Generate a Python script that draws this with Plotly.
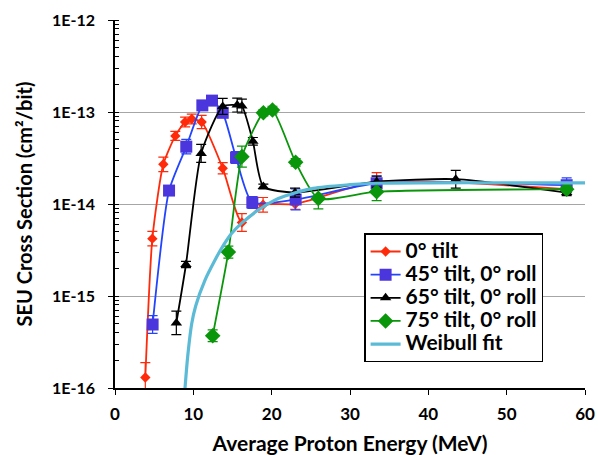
import plotly.graph_objects as go

# ---- data ----
red_x = [3.87, 4.77, 6.17, 7.7, 8.95, 9.8, 11.06, 13.75, 16.2, 18.9, 23.0, 33.4, 57.66]
red_y = [1.3e-16, 4.2e-15, 2.7e-14, 5.5e-14, 7.8e-14, 8.4e-14, 7.8e-14, 2.45e-14, 6.3e-15, 9.8e-15, 1.0e-14, 1.75e-14, 1.45e-14]
red_err = [0.45, 0.2, 0.2, 0.12, 0.13, 0.13, 0.18, 0.15, 0.25, 0.2, 0.14, 0.25, 0.08]

blue_x = [4.8, 6.9, 9.1, 11.15, 12.38, 13.75, 15.45, 17.53, 23.06, 33.4, 57.66]
blue_y = [4.9e-16, 1.4e-14, 4.2e-14, 1.18e-13, 1.33e-13, 9.8e-14, 3.2e-14, 1.04e-14, 1.12e-14, 1.68e-14, 1.6e-14]
blue_err = [0.25, 0.1, 0.2, 0.06, 0.06, 0.06, 0.16, 0.16, 0.3, 0.2, 0.2]

black_x = [7.83, 9.06, 11.0, 13.75, 15.6, 16.2, 17.6, 18.94, 22.98, 33.4, 43.5, 57.66]
black_y = [5.1e-16, 2.2e-15, 3.55e-14, 1.15e-13, 1.19e-13, 1.16e-13, 4.8e-14, 1.55e-14, 1.33e-14, 1.75e-14, 1.86e-14, 1.33e-14]
black_err = [0.34, 0.08, 0.25, 0.22, 0.19, 0.19, 0.1, 0.06, 0.12, 0.15, 0.25, 0.08]

green_x = [12.47, 14.47, 16.2, 18.94, 20.1, 23.06, 25.96, 33.4, 57.66]
green_y = [3.7e-16, 3.0e-15, 3.27e-14, 9.8e-14, 1.05e-13, 2.84e-14, 1.15e-14, 1.36e-14, 1.45e-14]
green_err = [0.16, 0.16, 0.3, 0.08, 0.1, 0.1, 0.3, 0.25, 0.08]

weib_x = [8.94, 9.28, 9.79, 10.3, 11.49, 12.77, 13.6, 14.9, 16.17, 18.3, 20.4, 21.7, 25.3, 30.0, 33.4, 40.0, 50.0, 60.0]
weib_y = [1.0e-16, 2.2e-16, 5.0e-16, 7.8e-16, 1.49e-15, 2.46e-15, 3.3e-15, 4.8e-15, 6.2e-15, 8.6e-15, 1.1e-14, 1.22e-14, 1.48e-14, 1.62e-14, 1.68e-14, 1.7e-14, 1.7e-14, 1.7e-14]

series_names = ["0° tilt", "45° tilt, 0° roll", "65° tilt, 0° roll", "75° tilt, 0° roll", "Weibull fit"]

x_ticks = [0, 10, 20, 30, 40, 50, 60]
y_tickvals = [1e-16, 1e-15, 1e-14, 1e-13, 1e-12]
y_ticktext = ["1E-16", "1E-15", "1E-14", "1E-13", "1E-12"]

FONT = "Lato"


def errs(y, f):
    up = [v * e for v, e in zip(y, f)]
    dn = [v * (1 - 1 / (1 + e)) for v, e in zip(y, f)]
    return up, dn


def legend_label(s):
    return '<span style="font-size:21px">' + s + '</span>'


fig = go.Figure()

series = [
    (series_names[0], red_x, red_y, red_err, "#FF2A0A", "#FF2A0A", "diamond", 8),
    (series_names[1], blue_x, blue_y, blue_err, "#2244FF", "#4B36DD", "square", 12),
    (series_names[2], black_x, black_y, black_err, "#000000", "#000000", "triangle-up", 10),
    (series_names[3], green_x, green_y, green_err, "#0A960A", "#0A960A", "diamond", 12),
]
for name, x, y, e, lc, mc, sym, ms in series:
    up, dn = errs(y, e)
    fig.add_trace(go.Scatter(
        x=x, y=y, name=legend_label(name), mode="lines+markers",
        line=dict(color=lc, width=1.8, shape="spline", smoothing=0.6),
        marker=dict(color=mc, symbol=sym, size=ms),
        error_y=dict(type="data", array=up, arrayminus=dn, color=lc, thickness=1.2, width=5),
    ))

fig.add_trace(go.Scatter(
    x=weib_x, y=weib_y, name=legend_label(series_names[4]), mode="lines",
    line=dict(color="#5BBBD6", width=3.2, shape="spline", smoothing=0.8),
))

fig.update_layout(
    width=599, height=455,
    margin=dict(l=115, r=14, t=20, b=67),
    paper_bgcolor="white", plot_bgcolor="white",
    font=dict(family=FONT, color="black", size=16),
    legend=dict(
        x=0.53, y=0.42, xanchor="left", yanchor="top",
        bgcolor="white", bordercolor="black", borderwidth=1.5,
        font=dict(family=FONT, size=15.5, weight="bold"),
        tracegroupgap=0, itemwidth=30,
    ),
)

fig.update_xaxes(
    range=[0, 60], tickvals=x_ticks, ticks="outside", ticklen=5, tickcolor="black",
    showline=True, linecolor="black", linewidth=1.5, showgrid=False, zeroline=False,
    automargin=False, ticklabelstandoff=5,
    tickfont=dict(family=FONT, size=17, weight="bold"),
    title=dict(text="Average Proton Energy (MeV)", font=dict(family=FONT, size=21, weight="bold"), standoff=14),
)
fig.update_yaxes(
    type="log", range=[-16, -12], tickvals=y_tickvals, ticktext=y_ticktext,
    ticks="outside", ticklen=5, tickcolor="black",
    showline=True, linecolor="black", linewidth=1.5,
    showgrid=True, gridcolor="#A6A6A6", gridwidth=1.2, zeroline=False,
    automargin=False, ticklabelstandoff=10,
    minor=dict(ticks="inside", ticklen=4, tickcolor="black", dtick="D1", showgrid=False),
    tickfont=dict(family=FONT, size=16, weight="bold"),
    title=dict(text="SEU Cross Section (cm²/bit)", font=dict(family=FONT, size=20, weight="bold"), standoff=14),
)

fig.write_html("out.html")
